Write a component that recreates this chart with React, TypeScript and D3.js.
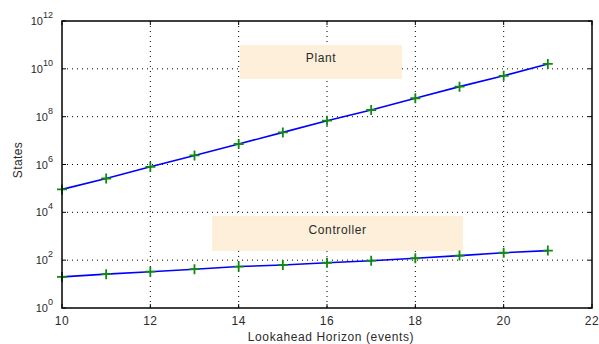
import * as d3 from 'd3';
import React, { useEffect, useRef } from 'react';

// horizon (events)
const horizon = [10, 11, 12, 13, 14, 15, 16, 17, 18, 19, 20, 21];
// states
const plantStates = [9.1e4, 2.6e5, 8.0e5, 2.4e6, 7.2e6, 2.2e7, 6.8e7, 1.9e8, 5.9e8, 1.8e9, 5.1e9, 1.6e10];
const controllerStates = [20, 26, 33, 42, 54, 63, 78, 95, 120, 155, 204, 251];

const xTicks = [10, 12, 14, 16, 18, 20, 22];
const yExponents = [0, 2, 4, 6, 8, 10, 12];

// text boxes, in data units
const labels = [
  { text: 'Plant', x0: 14.03, x1: 17.7, y0: 1.0e11, y1: 3.8e9, ty: 3.0e10 },
  { text: 'Controller', x0: 13.4, x1: 19.08, y0: 7.1e3, y1: 2.4e2, ty: 1.8e3 },
];

const W = 599;
const H = 344;
const margin = { top: 21, right: 7, bottom: 36, left: 62 };
const font = '"Liberation Sans", Arial, sans-serif';

const App = () => {
  const ref = useRef<SVGSVGElement>(null);

  useEffect(() => {
    const svg = d3.select(ref.current);
    svg.selectAll('*').remove();

    const width = W - margin.left - margin.right;
    const height = H - margin.top - margin.bottom;

    const x = d3.scaleLinear().domain([10, 22]).range([0, width]);
    const y = d3.scaleLog().domain([1, 1e12]).range([height, 0]);

    const g = svg.append('g')
      .attr('transform', 'translate(' + margin.left + ',' + margin.top + ')');

    // dotted grid
    g.selectAll('.gx')
      .data(xTicks.slice(1, -1))
      .enter().append('line')
      .attr('x1', (d) => x(d)).attr('x2', (d) => x(d))
      .attr('y1', 0).attr('y2', height)
      .attr('stroke', '#000').attr('stroke-width', 1)
      .attr('stroke-dasharray', '1,4');
    g.selectAll('.gy')
      .data(yExponents.slice(1, -1))
      .enter().append('line')
      .attr('x1', 0).attr('x2', width)
      .attr('y1', (d) => y(Math.pow(10, d))).attr('y2', (d) => y(Math.pow(10, d)))
      .attr('stroke', '#000').attr('stroke-width', 1)
      .attr('stroke-dasharray', '1,4');

    // annotation boxes
    labels.forEach((l) => {
      g.append('rect')
        .attr('x', x(l.x0)).attr('y', y(l.y0))
        .attr('width', x(l.x1) - x(l.x0))
        .attr('height', y(l.y1) - y(l.y0))
        .attr('fill', '#fdefd9');
      g.append('text')
        .attr('x', (x(l.x0) + x(l.x1)) / 2)
        .attr('y', y(l.ty))
        .attr('dy', '0.35em')
        .attr('text-anchor', 'middle')
        .attr('font-family', font).attr('font-size', 12)
        .attr('letter-spacing', 0.6)
        .attr('fill', '#2a2a2a')
        .text(l.text);
    });

    // series
    const line = d3.line<number>()
      .x((d, i) => x(horizon[i]))
      .y((d) => y(d));

    [plantStates, controllerStates].forEach((s) => {
      g.append('path')
        .datum(s)
        .attr('d', line)
        .attr('fill', 'none')
        .attr('stroke', '#0000ff')
        .attr('stroke-width', 1.6);

      const m = 5;
      g.selectAll(null)
        .data(s)
        .enter().append('path')
        .attr('d', (d, i) => {
          const cx = x(horizon[i]), cy = y(d);
          return 'M' + (cx - m) + ',' + cy + 'H' + (cx + m) + 'M' + cx + ',' + (cy - m) + 'V' + (cy + m);
        })
        .attr('stroke', '#118a11')
        .attr('stroke-width', 1.8)
        .attr('fill', 'none');
    });

    // ticks on all sides, pointing inward
    const tk = 4;
    xTicks.forEach((t) => {
      g.append('line').attr('x1', x(t)).attr('x2', x(t)).attr('y1', height).attr('y2', height - tk)
        .attr('stroke', '#000');
      g.append('line').attr('x1', x(t)).attr('x2', x(t)).attr('y1', 0).attr('y2', tk)
        .attr('stroke', '#000');
      g.append('text')
        .attr('x', x(t)).attr('y', height + 17)
        .attr('text-anchor', 'middle')
        .attr('font-family', font).attr('font-size', 12)
        .attr('letter-spacing', 0.5)
        .attr('fill', '#2a2a2a')
        .text(t);
    });
    yExponents.forEach((e) => {
      const yy = y(Math.pow(10, e));
      g.append('line').attr('x1', 0).attr('x2', tk).attr('y1', yy).attr('y2', yy).attr('stroke', '#000');
      g.append('line').attr('x1', width).attr('x2', width - tk).attr('y1', yy).attr('y2', yy).attr('stroke', '#000');
      const t = g.append('text')
        .attr('x', -9).attr('y', yy + 4)
        .attr('text-anchor', 'end')
        .attr('font-family', font).attr('font-size', 11)
        .attr('fill', '#2a2a2a');
      t.append('tspan').text('10');
      t.append('tspan').attr('dy', -7).attr('font-size', 9).text(e);
    });

    // frame
    g.append('rect')
      .attr('x', 0).attr('y', 0).attr('width', width).attr('height', height)
      .attr('fill', 'none').attr('stroke', '#000').attr('stroke-width', 1.5);

    // axis titles
    svg.append('text')
      .attr('x', 331).attr('y', H - 3)
      .attr('text-anchor', 'middle')
      .attr('font-family', font).attr('font-size', 12)
      .attr('letter-spacing', 0.6)
      .attr('fill', '#2a2a2a')
      .text('Lookahead Horizon (events)');
    svg.append('text')
      .attr('transform', 'translate(22,160) rotate(-90)')
      .attr('text-anchor', 'middle')
      .attr('font-family', font).attr('font-size', 12)
      .attr('letter-spacing', 0.4)
      .attr('fill', '#2a2a2a')
      .text('States');
  }, []);

  return (
    <div style={{ position: 'absolute', left: 0, top: 0 }}>
      <svg ref={ref} width={W} height={H} style={{ display: 'block', background: '#fff' }} />
    </div>
  );
};

export default App;
